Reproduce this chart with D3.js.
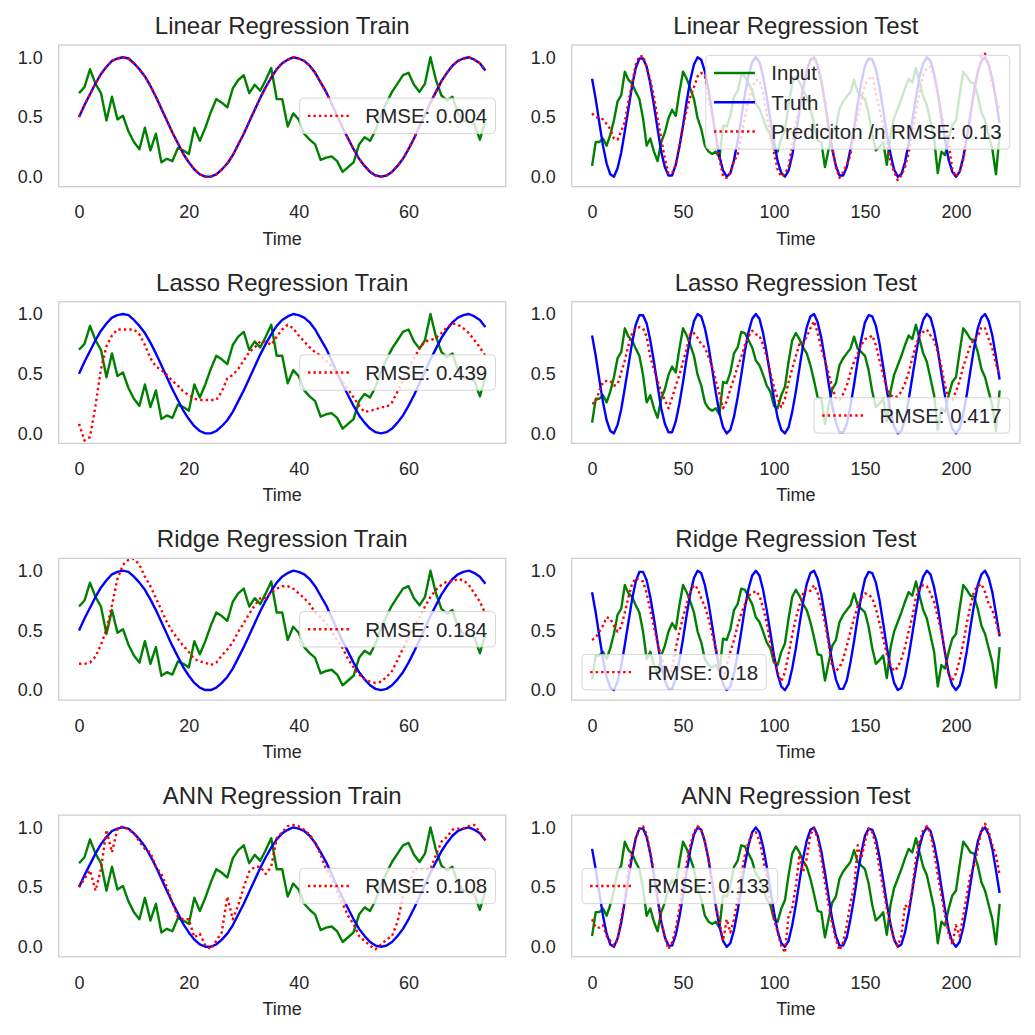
<!DOCTYPE html>
<html>
<head>
<meta charset="utf-8">
<script src="https://cdn.jsdelivr.net/npm/d3@7"></script>
<style>
  body { margin: 0; background: #fff; }
  svg text { font-family: "Liberation Sans", Arial, sans-serif; fill: #262626; }
</style>
</head>
<body>
<svg id="chart" width="1035" height="1035"></svg>
<script>
// ---- data ----
var models = ["Linear", "Lasso", "Ridge", "ANN"];
var trainRmse = ["RMSE: 0.004", "RMSE: 0.439", "RMSE: 0.184", "RMSE: 0.108"];
var testRmse = ["Prediciton /n RMSE: 0.13", "RMSE: 0.417", "RMSE: 0.18", "RMSE: 0.133"];
var trainTicks = [0, 20, 40, 60];
var testTicks = [0, 50, 100, 150, 200];
var yTicks = [0.0, 0.5, 1.0];
var testStep = 2; // test series sampled every 2nd time step

var trainInput = [0.70, 0.75, 0.90, 0.78, 0.70, 0.47, 0.67, 0.48, 0.51, 0.38,
  0.29, 0.23, 0.41, 0.22, 0.36, 0.12, 0.15, 0.13, 0.24, 0.22,
  0.19, 0.41, 0.30, 0.41, 0.54, 0.65, 0.62, 0.58, 0.74, 0.81,
  0.85, 0.70, 0.77, 0.72, 0.81, 0.91, 0.65, 0.65, 0.42, 0.53,
  0.48, 0.36, 0.31, 0.27, 0.14, 0.16, 0.17, 0.13, 0.04, 0.08,
  0.12, 0.27, 0.33, 0.30, 0.39, 0.52, 0.62, 0.71, 0.78, 0.85,
  0.87, 0.77, 0.71, 0.78, 1.00, 0.81, 0.68, 0.64, 0.67, 0.53,
  0.47, 0.46, 0.44, 0.31, 0.47];

var trainTruth = [0.50, 0.60, 0.69, 0.78, 0.86, 0.92, 0.97, 0.99, 1.00, 0.99,
  0.95, 0.90, 0.84, 0.76, 0.67, 0.57, 0.47, 0.37, 0.28, 0.19,
  0.12, 0.06, 0.02, 0.00, 0.00, 0.02, 0.06, 0.11, 0.18, 0.27,
  0.36, 0.46, 0.56, 0.66, 0.75, 0.83, 0.90, 0.95, 0.98, 1.00,
  0.99, 0.97, 0.93, 0.87, 0.79, 0.71, 0.61, 0.51, 0.41, 0.32,
  0.23, 0.15, 0.09, 0.04, 0.01, 0.00, 0.01, 0.04, 0.09, 0.15,
  0.23, 0.32, 0.42, 0.52, 0.62, 0.71, 0.80, 0.87, 0.93, 0.97,
  0.99, 1.00, 0.98, 0.95, 0.89];

var trainLinear = [0.50, 0.60, 0.69, 0.78, 0.86, 0.92, 0.97, 0.99, 1.00, 0.99,
  0.95, 0.90, 0.84, 0.76, 0.67, 0.57, 0.47, 0.37, 0.28, 0.19,
  0.12, 0.06, 0.02, 0.00, 0.00, 0.02, 0.06, 0.11, 0.18, 0.27,
  0.36, 0.46, 0.56, 0.66, 0.75, 0.83, 0.90, 0.95, 0.98, 1.00,
  0.99, 0.97, 0.93, 0.87, 0.79, 0.71, 0.61, 0.51, 0.41, 0.32,
  0.23, 0.15, 0.09, 0.04, 0.01, 0.00, 0.01, 0.04, 0.09, 0.15,
  0.23, 0.32, 0.42, 0.52, 0.62, 0.71, 0.80, 0.87, 0.93, 0.97,
  0.99, 1.00, 0.98, 0.95, 0.89];

var trainLasso = [0.08, -0.06, -0.03, 0.23, 0.54, 0.73, 0.82, 0.87, 0.87, 0.87,
  0.87, 0.83, 0.74, 0.63, 0.56, 0.53, 0.49, 0.44, 0.40, 0.35,
  0.32, 0.29, 0.28, 0.28, 0.28, 0.28, 0.35, 0.46, 0.49, 0.54,
  0.61, 0.68, 0.72, 0.77, 0.77, 0.74, 0.81, 0.87, 0.91, 0.88,
  0.82, 0.77, 0.72, 0.68, 0.65, 0.61, 0.56, 0.50, 0.43, 0.37,
  0.30, 0.23, 0.18, 0.19, 0.20, 0.22, 0.22, 0.26, 0.35, 0.44,
  0.54, 0.63, 0.71, 0.77, 0.78, 0.80, 0.84, 0.89, 0.92, 0.91,
  0.88, 0.84, 0.78, 0.72, 0.65];

var trainRidge = [0.22, 0.22, 0.23, 0.28, 0.38, 0.51, 0.71, 0.93, 1.05, 1.09,
  1.10, 1.05, 0.95, 0.87, 0.77, 0.67, 0.57, 0.49, 0.43, 0.37,
  0.32, 0.26, 0.24, 0.23, 0.21, 0.23, 0.29, 0.34, 0.40, 0.49,
  0.56, 0.64, 0.71, 0.77, 0.77, 0.82, 0.85, 0.87, 0.87, 0.85,
  0.81, 0.77, 0.72, 0.65, 0.61, 0.56, 0.49, 0.42, 0.35, 0.26,
  0.19, 0.13, 0.09, 0.07, 0.06, 0.07, 0.11, 0.16, 0.25, 0.35,
  0.44, 0.53, 0.61, 0.70, 0.78, 0.84, 0.88, 0.91, 0.91, 0.93,
  0.92, 0.88, 0.81, 0.74, 0.64];

var trainAnn = [0.50, 0.57, 0.64, 0.47, 0.65, 0.98, 0.79, 0.99, 1.01, 0.98,
  0.95, 0.88, 0.82, 0.79, 0.67, 0.61, 0.50, 0.37, 0.25, 0.23,
  0.23, 0.08, 0.11, 0.01, -0.02, 0.05, 0.12, 0.42, 0.23, 0.35,
  0.50, 0.63, 0.67, 0.67, 0.61, 0.67, 0.91, 0.96, 1.01, 1.02,
  1.01, 0.98, 0.94, 0.87, 0.77, 0.65, 0.57, 0.46, 0.36, 0.26,
  0.19, 0.09, 0.05, 0.01, -0.02, 0.02, 0.06, 0.09, 0.21, 0.42,
  0.51, 0.65, 0.65, 0.65, 0.65, 0.77, 0.88, 0.92, 0.98, 0.99,
  0.99, 1.01, 1.02, 0.96, 0.89];

var testInput = [0.09, 0.29, 0.29, 0.32, 0.26, 0.35, 0.47, 0.63, 0.68, 0.88,
  0.81, 0.78, 0.71, 0.65, 0.49, 0.26, 0.32, 0.21, 0.13, 0.29,
  0.37, 0.49, 0.56, 0.51, 0.71, 0.88, 0.82, 0.74, 0.65, 0.49,
  0.40, 0.26, 0.21, 0.19, 0.21, 0.16, 0.43, 0.42, 0.51, 0.67,
  0.72, 0.85, 0.84, 0.78, 0.72, 0.61, 0.57, 0.49, 0.40, 0.35,
  0.23, 0.21, 0.32, 0.39, 0.60, 0.78, 0.84, 0.79, 0.72, 0.67,
  0.57, 0.44, 0.30, 0.29, 0.08, 0.23, 0.37, 0.42, 0.57, 0.63,
  0.67, 0.71, 0.81, 0.71, 0.68, 0.65, 0.53, 0.35, 0.22, 0.25,
  0.29, 0.10, 0.35, 0.49, 0.57, 0.65, 0.74, 0.82, 0.79, 0.91,
  0.79, 0.67, 0.60, 0.46, 0.32, 0.03, 0.21, 0.18, 0.32, 0.43,
  0.47, 0.68, 0.88, 0.84, 0.79, 0.78, 0.68, 0.54, 0.47, 0.35,
  0.23, 0.02, 0.36];

var testTruth = [0.82, 0.65, 0.45, 0.26, 0.11, 0.02, 0.00, 0.07, 0.20, 0.38,
  0.57, 0.76, 0.91, 0.99, 0.99, 0.92, 0.78, 0.60, 0.40, 0.21,
  0.08, 0.01, 0.01, 0.10, 0.25, 0.43, 0.63, 0.81, 0.94, 1.00,
  0.98, 0.88, 0.73, 0.54, 0.34, 0.17, 0.05, 0.00, 0.03, 0.14,
  0.30, 0.49, 0.69, 0.85, 0.96, 1.00, 0.96, 0.84, 0.67, 0.48,
  0.29, 0.13, 0.03, 0.00, 0.05, 0.18, 0.35, 0.55, 0.74, 0.89,
  0.98, 1.00, 0.93, 0.80, 0.62, 0.42, 0.23, 0.09, 0.01, 0.01,
  0.08, 0.23, 0.41, 0.61, 0.79, 0.93, 0.99, 0.98, 0.90, 0.75,
  0.56, 0.36, 0.19, 0.06, 0.00, 0.02, 0.12, 0.28, 0.47, 0.66,
  0.84, 0.95, 1.00, 0.97, 0.86, 0.70, 0.50, 0.31, 0.14, 0.04,
  0.00, 0.04, 0.16, 0.33, 0.53, 0.72, 0.88, 0.97, 1.00, 0.94,
  0.82, 0.64, 0.45];

var testLinear = [0.53, 0.50, 0.49, 0.48, 0.44, 0.40, 0.32, 0.31, 0.38, 0.46,
  0.63, 0.78, 0.94, 1.01, 1.01, 0.92, 0.81, 0.67, 0.49, 0.32,
  0.15, 0.03, 0.03, 0.10, 0.25, 0.42, 0.56, 0.67, 0.75, 0.84,
  0.87, 0.84, 0.67, 0.50, 0.34, 0.15, 0.00, -0.01, 0.03, 0.13,
  0.18, 0.34, 0.50, 0.64, 0.74, 0.81, 0.81, 0.70, 0.53, 0.34,
  0.20, 0.06, 0.00, 0.03, 0.08, 0.27, 0.45, 0.57, 0.74, 0.89,
  0.96, 1.00, 0.95, 0.81, 0.63, 0.39, 0.25, 0.08, -0.01, 0.04,
  0.10, 0.18, 0.38, 0.50, 0.64, 0.77, 0.82, 0.84, 0.70, 0.56,
  0.43, 0.28, 0.13, 0.04, -0.03, 0.01, 0.08, 0.20, 0.36, 0.53,
  0.71, 0.85, 0.91, 0.92, 0.84, 0.70, 0.53, 0.41, 0.28, 0.06,
  0.00, 0.04, 0.14, 0.31, 0.50, 0.70, 0.87, 1.01, 1.03, 0.92,
  0.77, 0.66, 0.56];

var testLasso = [0.25, 0.26, 0.36, 0.43, 0.44, 0.44, 0.40, 0.41, 0.51, 0.61,
  0.74, 0.84, 0.88, 0.89, 0.88, 0.81, 0.64, 0.54, 0.44, 0.35,
  0.28, 0.21, 0.30, 0.40, 0.49, 0.60, 0.71, 0.84, 0.84, 0.80,
  0.75, 0.72, 0.64, 0.56, 0.44, 0.33, 0.21, 0.27, 0.37, 0.46,
  0.56, 0.64, 0.74, 0.81, 0.86, 0.83, 0.82, 0.74, 0.64, 0.51,
  0.39, 0.29, 0.22, 0.29, 0.43, 0.54, 0.65, 0.75, 0.75, 0.81,
  0.88, 0.94, 0.84, 0.71, 0.61, 0.50, 0.39, 0.29, 0.28, 0.33,
  0.40, 0.51, 0.60, 0.67, 0.74, 0.79, 0.80, 0.82, 0.74, 0.61,
  0.49, 0.37, 0.32, 0.30, 0.31, 0.35, 0.42, 0.51, 0.63, 0.74,
  0.82, 0.85, 0.87, 0.82, 0.78, 0.68, 0.56, 0.40, 0.29, 0.28,
  0.35, 0.44, 0.56, 0.65, 0.74, 0.79, 0.81, 0.89, 0.88, 0.79,
  0.71, 0.58, 0.49];

var testRidge = [0.42, 0.44, 0.49, 0.54, 0.61, 0.60, 0.54, 0.49, 0.53, 0.65,
  0.78, 0.89, 0.94, 0.92, 0.91, 0.81, 0.67, 0.53, 0.39, 0.28,
  0.18, 0.09, 0.19, 0.35, 0.49, 0.61, 0.72, 0.82, 0.88, 0.85,
  0.77, 0.70, 0.60, 0.47, 0.35, 0.23, 0.08, 0.21, 0.32, 0.42,
  0.54, 0.64, 0.72, 0.79, 0.81, 0.83, 0.79, 0.69, 0.56, 0.39,
  0.26, 0.15, 0.07, 0.15, 0.30, 0.46, 0.60, 0.71, 0.81, 0.85,
  0.83, 0.88, 0.81, 0.70, 0.56, 0.39, 0.19, 0.16, 0.19, 0.26,
  0.37, 0.49, 0.60, 0.70, 0.77, 0.81, 0.80, 0.77, 0.68, 0.56,
  0.43, 0.30, 0.21, 0.16, 0.19, 0.26, 0.36, 0.49, 0.61, 0.78,
  0.85, 0.88, 0.87, 0.81, 0.74, 0.61, 0.49, 0.32, 0.13, 0.08,
  0.14, 0.25, 0.39, 0.56, 0.71, 0.83, 0.87, 0.89, 0.82, 0.72,
  0.67, 0.57, 0.46];

var testAnn = [0.23, 0.16, 0.16, 0.18, 0.09, 0.05, 0.01, 0.06, 0.23, 0.40,
  0.65, 0.78, 0.91, 0.99, 1.01, 0.94, 0.79, 0.63, 0.43, 0.21,
  0.08, -0.02, 0.04, 0.15, 0.32, 0.54, 0.70, 0.85, 0.96, 1.01,
  0.98, 0.88, 0.74, 0.54, 0.35, 0.21, 0.05, 0.23, 0.12, 0.23,
  0.40, 0.60, 0.77, 0.88, 0.94, 0.96, 0.89, 0.74, 0.57, 0.37,
  0.23, 0.12, 0.01, -0.05, 0.26, 0.32, 0.51, 0.77, 0.63, 0.74,
  0.94, 0.99, 0.91, 0.74, 0.54, 0.35, 0.19, 0.06, -0.03, 0.04,
  0.18, 0.37, 0.49, 0.85, 0.74, 0.88, 0.99, 0.96, 0.85, 0.65,
  0.49, 0.32, 0.18, 0.06, 0.01, 0.09, 0.35, 0.32, 0.49, 0.74,
  0.88, 0.98, 1.01, 0.95, 0.79, 0.60, 0.43, 0.26, 0.11, 0.02,
  0.18, 0.09, 0.26, 0.43, 0.61, 0.68, 0.82, 0.98, 1.03, 0.96,
  0.85, 0.77, 0.60];

var trainPreds = [trainLinear, trainLasso, trainRidge, trainAnn];
var testPreds = [testLinear, testLasso, testRidge, testAnn];
var testLegendLoc = ["upper right", "lower right", "lower left", "center left"];

// ---- layout ----
var svg = d3.select("#chart");
var yDomain = [-0.084, 1.103];
var cols = [{ left: 58.7, width: 447 }, { left: 571.7, width: 448.3 }];
var rowTop = [45, 301.7, 558.4, 815.1];
var axH = 141.7;
var lw = 2.4;
var dotted = "2.4,3.1";

function legend(g, items, loc, w, h) {
    var fs = 20.5, pad = 0.4 * fs, hl = 2 * fs, htp = 0.8 * fs,
        rowH = 19, gap = 0.5 * fs, edge = 0.5 * fs;
    var lg = g.append("g");
    var box = lg.append("rect")
        .attr("rx", 4).attr("ry", 4)
        .attr("fill", "#fff").attr("fill-opacity", 0.8)
        .attr("stroke", "#cccccc").attr("stroke-opacity", 0.8).attr("stroke-width", 1);
    var textW = 0;
    items.forEach(function (it, i) {
        var cy = pad + i * (rowH + gap) + rowH / 2;
        lg.append("line")
            .attr("x1", pad).attr("x2", pad + hl)
            .attr("y1", cy).attr("y2", cy)
            .attr("stroke", it.color).attr("stroke-width", lw)
            .attr("stroke-dasharray", it.dash ? dotted : null);
        var t = lg.append("text")
            .attr("x", pad + hl + htp).attr("y", cy).attr("dy", "0.36em")
            .style("font-size", fs + "px")
            .text(it.label);
        textW = Math.max(textW, t.node().getComputedTextLength());
    });
    var bw = pad + hl + htp + textW + pad,
        bh = 2 * pad + items.length * rowH + (items.length - 1) * gap;
    box.attr("width", bw).attr("height", bh);
    var bx = loc.indexOf("right") >= 0 ? w - edge - bw : edge;
    var by = loc.indexOf("upper") >= 0 ? edge : loc.indexOf("lower") >= 0 ? h - edge - bh : (h - bh) / 2;
    lg.attr("transform", "translate(" + bx + "," + by + ")");
}

function panel(row, col, title, series, xTime, xDomain, xTicks, legendItems, loc) {
    var c = cols[col], top = rowTop[row];
    var g = svg.append("g").attr("transform", "translate(" + c.left + "," + top + ")");
    var x = d3.scaleLinear().domain(xDomain).range([0, c.width]);
    var y = d3.scaleLinear().domain(yDomain).range([axH, 0]);

    var clipId = "clip" + row + "_" + col;
    g.append("clipPath").attr("id", clipId)
        .append("rect").attr("width", c.width).attr("height", axH);

    var line = d3.line()
        .x(function (d, i) { return x(xTime(i)); })
        .y(function (d) { return y(d); });

    series.forEach(function (s) {
        g.append("path")
            .datum(s.values)
            .attr("clip-path", "url(#" + clipId + ")")
            .attr("fill", "none")
            .attr("stroke", s.color)
            .attr("stroke-width", lw)
            .attr("stroke-linejoin", "round")
            .attr("stroke-dasharray", s.dash ? dotted : null)
            .attr("d", line);
    });

    g.append("rect")
        .attr("width", c.width).attr("height", axH)
        .attr("fill", "none").attr("stroke", "#cccccc").attr("stroke-width", 1.25);

    var xa = g.append("g")
        .attr("transform", "translate(0," + axH + ")")
        .call(d3.axisBottom(x).tickValues(xTicks).tickSize(0).tickPadding(19).tickFormat(d3.format("d")));
    var ya = g.append("g")
        .call(d3.axisLeft(y).tickValues(yTicks).tickSize(0).tickPadding(16).tickFormat(d3.format(".1f")));
    [xa, ya].forEach(function (a) {
        a.select(".domain").remove();
        a.selectAll("text").attr("fill", "#262626").style("font-size", "18px")
            .style("font-family", '"Liberation Sans", Arial, sans-serif');
    });

    g.append("text")
        .attr("x", c.width / 2).attr("y", axH + 58)
        .attr("text-anchor", "middle")
        .style("font-size", "18px")
        .text("Time");

    g.append("text")
        .attr("x", c.width / 2).attr("y", -11)
        .attr("text-anchor", "middle")
        .style("font-size", "24px")
        .text(title);

    legend(g, legendItems, loc, c.width, axH);
}

models.forEach(function (m, r) {
    panel(r, 0, m + " Regression Train", [
        { values: trainInput, color: "green" },
        { values: trainTruth, color: "blue" },
        { values: trainPreds[r], color: "red", dash: true }
    ], function (i) { return i; }, [-3.7, 77.7], trainTicks,
        [{ label: trainRmse[r], color: "red", dash: true }], "center right");

    var testItems = r === 0
        ? [{ label: "Input", color: "green" }, { label: "Truth", color: "blue" },
           { label: testRmse[r], color: "red", dash: true }]
        : [{ label: testRmse[r], color: "red", dash: true }];
    panel(r, 1, m + " Regression Test", [
        { values: testInput, color: "green" },
        { values: testTruth, color: "blue" },
        { values: testPreds[r], color: "red", dash: true }
    ], function (i) { return i * testStep; }, [-11.2, 235.2], testTicks,
        testItems, testLegendLoc[r]);
});
</script>
</body>
</html>
